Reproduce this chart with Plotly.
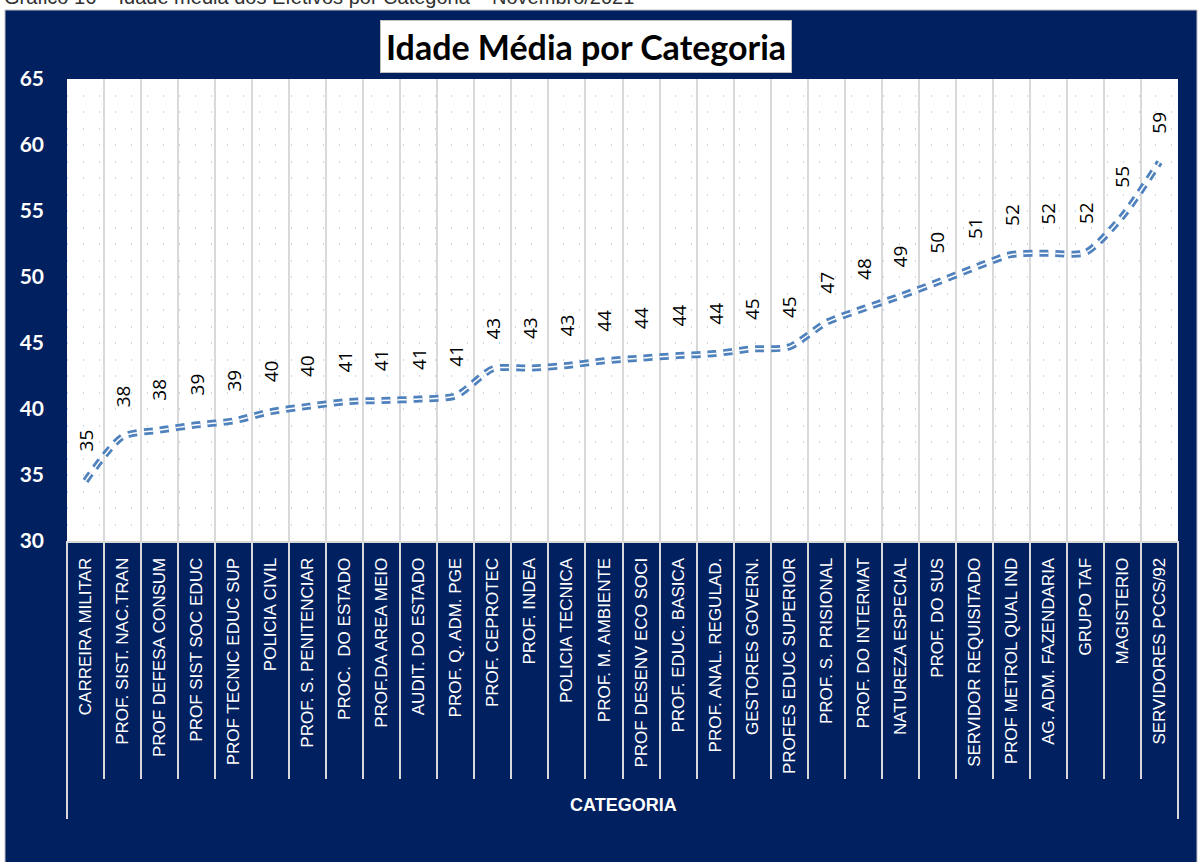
import plotly.graph_objects as go

categories = [
    "CARREIRA MILITAR", "PROF. SIST. NAC.TRAN", "PROF DEFESA CONSUM", "PROF SIST SOC EDUC",
    "PROF TECNIC EDUC SUP", "POLICIA CIVIL", "PROF. S. PENITENCIAR", "PROC.  DO ESTADO",
    "PROF.DA AREA MEIO", "AUDIT. DO ESTADO", "PROF. Q. ADM. PGE", "PROF. CEPROTEC",
    "PROF. INDEA", "POLICIA TECNICA", "PROF. M. AMBIENTE", "PROF DESENV ECO SOCI",
    "PROF. EDUC. BASICA", "PROF. ANAL. REGULAD.", "GESTORES GOVERN.", "PROFES EDUC SUPERIOR",
    "PROF. S. PRISIONAL", "PROF. DO INTERMAT", "NATUREZA ESPECIAL", "PROF. DO SUS",
    "SERVIDOR REQUISITADO", "PROF METROL QUAL IND", "AG. ADM. FAZENDARIA", "GRUPO TAF",
    "MAGISTERIO", "SERVIDORES PCCS/92",
]
idade_media = [
    34.55, 37.9, 38.4, 38.8, 39.1, 39.8, 40.2, 40.55, 40.65, 40.75,
    41.0, 43.05, 43.1, 43.3, 43.65, 43.85, 44.05, 44.2, 44.55, 44.7,
    46.55, 47.6, 48.55, 49.6, 50.7, 51.7, 51.8, 51.85, 54.6, 58.7,
]
y_ticks = [30, 35, 40, 45, 50, 55, 60, 65]

title_text = "Idade Média por Categoria"
caption_text = "Gráfico 16 – Idade média dos Efetivos por Categoria – Novembro/2021"
x_title = "CATEGORIA"

W, H = 1200, 862
ML, MR, MT, MB = 67, 22, 79, 321
PW, PH = W - ML - MR, H - MT - MB
NAVY = "#002060"
LINE_BLUE = "#4F81BD"
SEP = "#D9D9D9"


def px_x(px):
    return (px - ML) / PW


def px_y(py):
    return (H - MB - py) / PH


fig = go.Figure()

# compound (double) dashed line: wide blue dash with a thin white core
fig.add_trace(go.Scatter(
    x=categories, y=idade_media, mode="lines",
    line=dict(color=LINE_BLUE, width=7, dash="9px,7px", shape="spline", smoothing=0.7),
    hoverinfo="skip", showlegend=False,
))
fig.add_trace(go.Scatter(
    x=categories, y=idade_media, mode="lines",
    line=dict(color="white", width=1.5, dash="9px,7px", shape="spline", smoothing=0.7),
    hoverinfo="skip", showlegend=False,
))
# invisible trace for the separator-tick axis
fig.add_trace(go.Scatter(
    x=categories, y=idade_media, xaxis="x2", mode="none",
    hoverinfo="skip", showlegend=False,
))

annotations = []
for c, v in zip(categories, idade_media):
    annotations.append(dict(
        x=c, y=v, xref="x", yref="y", text=str(int(v + 0.5)),
        showarrow=False, textangle=-90, yshift=40,
        font=dict(family="Open Sans", size=19, color="black"),
        xanchor="center", yanchor="middle",
    ))

# chart title in white box
annotations.append(dict(
    x=px_x(586), y=px_y(46), xref="paper", yref="paper",
    text="<b>" + title_text + "</b>", showarrow=False,
    font=dict(family="Lato", size=34, color="black"),
    bgcolor="white", bordercolor="#BFBFBF", borderwidth=1, borderpad=5,
    xanchor="center", yanchor="middle",
))
# x axis title
annotations.append(dict(
    x=px_x(623), y=px_y(805), xref="paper", yref="paper",
    text="<b>" + x_title + "</b>", showarrow=False,
    font=dict(family="Liberation Sans", size=18, color="white"),
    xanchor="center", yanchor="middle",
))
# cropped caption above the chart frame
annotations.append(dict(
    x=px_x(2), y=px_y(10), xref="paper", yref="paper",
    text=caption_text, showarrow=False,
    font=dict(family="Liberation Sans", size=20, color="#303030"),
    xanchor="left", yanchor="bottom",
))

shapes = [
    # white strips around the navy frame
    dict(type="rect", xref="paper", yref="paper", x0=px_x(0), x1=px_x(W), y0=px_y(10), y1=px_y(0),
         fillcolor="white", line=dict(width=0), layer="above"),
    dict(type="rect", xref="paper", yref="paper", x0=px_x(0), x1=px_x(5), y0=px_y(H), y1=px_y(0),
         fillcolor="white", line=dict(width=0), layer="above"),
    dict(type="rect", xref="paper", yref="paper", x0=px_x(1197), x1=px_x(W), y0=px_y(H), y1=px_y(0),
         fillcolor="white", line=dict(width=0), layer="above"),
    dict(type="rect", xref="paper", yref="paper", x0=px_x(5), x1=px_x(1197), y0=px_y(H + 2), y1=px_y(10),
         fillcolor="rgba(0,0,0,0)", line=dict(width=1, color="#BFBFBF"), layer="above"),
    # long outer separators of the category box
    dict(type="line", xref="paper", yref="paper", x0=0, x1=0, y0=0, y1=px_y(819),
         line=dict(color=SEP, width=2)),
    dict(type="line", xref="paper", yref="paper", x0=1, x1=1, y0=0, y1=px_y(819),
         line=dict(color=SEP, width=2)),
]

fig.update_layout(
    width=W, height=H, autosize=False,
    margin=dict(l=ML, r=MR, t=MT, b=MB, pad=0),
    paper_bgcolor=NAVY, plot_bgcolor="white",
    showlegend=False,
    annotations=annotations, shapes=shapes,
    xaxis=dict(
        type="category", categoryorder="array", categoryarray=categories,
        range=[-0.5, len(categories) - 0.5], tickson="boundaries",
        showgrid=True, gridcolor=SEP, gridwidth=2,
        ticks="", tickangle=-90, ticklabelstandoff=8,
        tickfont=dict(family="Liberation Sans", size=17, color="white"),
        showline=True, linecolor=SEP, linewidth=2, zeroline=False, fixedrange=True,
    ),
    xaxis2=dict(
        type="category", categoryorder="array", categoryarray=categories,
        range=[-0.5, len(categories) - 0.5], overlaying="x", anchor="y", side="bottom",
        tickson="boundaries", ticks="outside", ticklen=237, tickwidth=2, tickcolor=SEP,
        showticklabels=False, showgrid=False, showline=False, zeroline=False, fixedrange=True,
    ),
    yaxis=dict(
        range=[30, 65], tickvals=y_ticks, ticks="", ticklabelstandoff=22,
        tickfont=dict(family="Lato", size=21, color="white", weight="bold"),
        showgrid=True, gridcolor="#C5D9F1", gridwidth=2, griddash="1px,15px",
        minor=dict(dtick=1.25, showgrid=True, gridcolor="#C5D9F1", gridwidth=2, griddash="1px,15px"),
        zeroline=False, showline=False, fixedrange=True,
    ),
)

fig.write_html(
    "out.html",
    config={"displayModeBar": False},
    post_script="document.body.style.margin='0';",
)
